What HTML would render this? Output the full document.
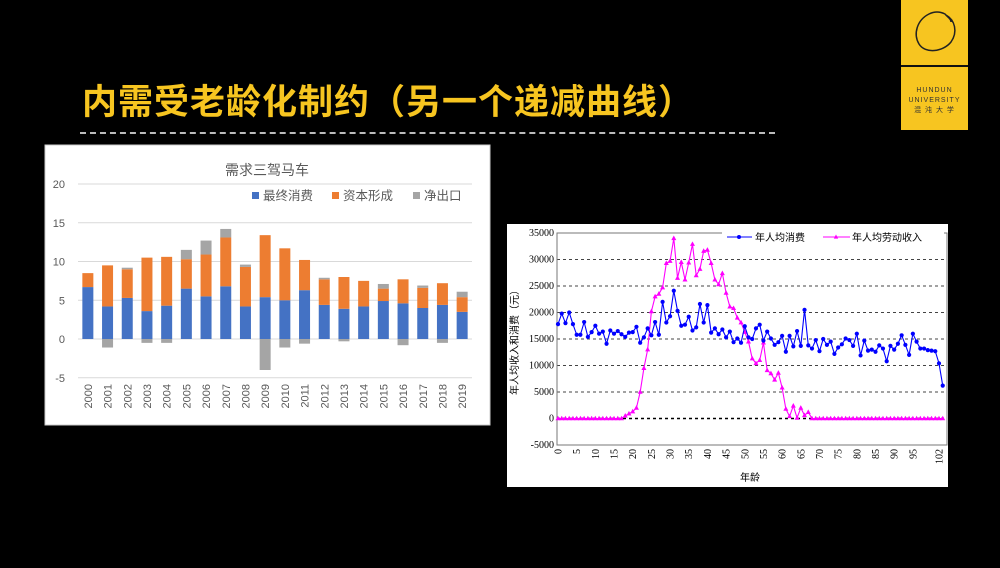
<!DOCTYPE html>
<html><head><meta charset="utf-8"><style>
body{margin:0;width:1000px;height:568px;background:#000;overflow:hidden;font-family:"Liberation Sans","Noto Sans CJK SC",sans-serif;position:relative}
.abs{position:absolute}
</style></head><body>
<div class="abs" style="left:82px;top:74px;font-size:35px;font-weight:bold;color:#f7c520;letter-spacing:1px;font-family:'Liberation Sans','Noto Sans CJK SC',sans-serif">内需受老龄化制约（另一个递减曲线）</div>
<div class="abs" style="left:80px;top:132px;width:695px;border-top:2px dashed #bbb"></div>
<div class="abs" style="left:901px;top:0;width:67px;height:130px;background:#f7c520">
<svg style="position:absolute;left:0;top:0" width="67" height="65"><path d="M45 15 C54 20 57 32 50 42 C42 52 24 54 18 44 C12 34 16 20 28 14 C34 11 40 12 44 14 C46 17 50 18 50 22" fill="none" stroke="#222" stroke-width="1.5"/></svg>
<div style="position:absolute;left:0;top:65px;width:67px;border-top:2px solid #111"></div>
<div style="position:absolute;left:0;top:86px;width:67px;text-align:center;font-size:7px;line-height:10px;color:#333;letter-spacing:1px">HUNDUN<br>UNIVERSITY<br>混 沌 大 学</div>
</div>
<svg class="abs" style="left:0;top:0" width="1000" height="568" id="svg"></svg>
<script>
const years=["2000","2001","2002","2003","2004","2005","2006","2007","2008","2009","2010","2011","2012","2013","2014","2015","2016","2017","2018","2019"];
const consumption=[6.7,4.2,5.3,3.6,4.3,6.5,5.5,6.8,4.2,5.4,5.0,6.3,4.4,3.9,4.2,4.9,4.6,4.0,4.4,3.5];
const capital=[1.8,5.3,3.7,6.9,6.3,3.8,5.4,6.3,5.1,8.0,6.7,3.9,3.3,4.1,3.3,1.6,3.1,2.6,2.8,1.9];
const netExports=[0,-1.1,0.2,-0.5,-0.5,1.2,1.8,1.1,0.3,-4.0,-1.1,-0.6,0.2,-0.3,0,0.6,-0.8,0.3,-0.5,0.7];
const leftTicks=[-5,0,5,10,15,20];
const ageConsumption=[17800,19800,18000,20000,17800,15800,15800,18200,15400,16300,17500,16000,16400,14100,16600,16000,16500,15900,15400,16200,16300,17300,14300,15300,17000,15700,18200,15800,22000,18100,19300,24100,20300,17500,17700,19200,16600,17200,21600,18100,21400,16200,17000,15900,16800,15300,16400,14400,15100,14300,17400,15300,15000,17000,17700,14700,16400,15100,13900,14400,15600,12600,15600,13600,16500,13700,20500,13800,13200,14800,12700,15000,13900,14500,12200,13400,14000,15100,14800,13700,16000,11900,14700,12800,13000,12600,13800,13200,10800,13700,13000,14100,15700,13900,12000,16000,14500,13200,13200,12900,12800,12700,10400,6200];
const laborIncome=[0,0,0,0,0,0,0,0,0,0,0,0,0,0,0,0,0,0,500,900,1300,2000,5000,9500,13000,20200,23000,23500,24700,29300,29700,34000,26500,29500,26200,29400,32900,27000,28200,31600,31800,29300,26200,25300,27400,23700,21100,20800,19000,18100,16300,14500,11300,10400,11000,14300,9100,8500,7300,8600,5800,1800,400,2400,100,2000,600,1200,0,0,0,0,0,0,0,0,0,0,0,0,0,0,0,0,0,0,0,0,0,0,0,0,0,0,0,0,0,0,0,0,0,0,0,0];
const rightYTicks=[-5000,0,5000,10000,15000,20000,25000,30000,35000];
const ageTicks=[0,5,10,15,20,25,30,35,40,45,50,55,60,65,70,75,80,85,90,95,102];

const NS="http://www.w3.org/2000/svg",svg=document.getElementById('svg');
function mk(t,a,p,txt){const e=document.createElementNS(NS,t);for(const k in a)e.setAttribute(k,a[k]);if(txt!=null)e.textContent=txt;(p||svg).appendChild(e);return e;}
const FF='"Liberation Sans","Noto Sans CJK SC",sans-serif';

// LEFT CHART
const L=mk('g',{});


mk('rect',{x:45,y:145,width:445,height:280,fill:'#fff',stroke:'#ccc'},L);
const ly=v=>339-v*(155/20);
const lx=i=>78+(i+0.5)*(394/20);
leftTicks.forEach(t=>{
 mk('line',{x1:78,x2:472,y1:ly(t),y2:ly(t),stroke:'#d9d9d9','stroke-width':1},L);
 const tl=mk('text',{x:65,y:ly(t)+4,'font-size':11,fill:'#595959','text-anchor':'end','font-family':FF},L,String(t));
 
 
});
const ct=mk('text',{x:267,y:175,'font-size':14,fill:'#595959','text-anchor':'middle','font-family':FF},L,'需求三驾马车');


const bw=11;
years.forEach((yr,i)=>{
 const x=lx(i)-bw/2;
 const c=consumption[i],k=capital[i],n=netExports[i];
 const b1=mk('rect',{x:x,y:ly(c),width:bw,height:ly(0)-ly(c),fill:'#4472c4'},L);
 
 
 const b2=mk('rect',{x:x,y:ly(c+k),width:bw,height:ly(c)-ly(c+k),fill:'#ed7d31'},L);
 
 
 let y0,y1;
 if(n>=0){y0=ly(c+k+n);y1=ly(c+k);}else{y0=ly(0);y1=ly(n);}
 const b3=mk('rect',{x:x,y:y0,width:bw,height:y1-y0,fill:'#a5a5a5'},L);
 
 
 const xl=mk('text',{x:0,y:0,'font-size':11,fill:'#595959','text-anchor':'end','font-family':FF,transform:`translate(${lx(i)+4},384) rotate(-90)`},L,yr);
 
 
});
[['#4472c4','最终消费',252],['#ed7d31','资本形成',332],['#a5a5a5','净出口',413]].forEach(([c,t,x])=>{
 const g=mk('g',{},L);
 
 
 mk('rect',{x:x,y:192,width:7,height:7,fill:c},g);
 mk('text',{x:x+11,y:200,'font-size':12.5,fill:'#595959','font-family':FF},g,t);
});

// RIGHT CHART
const R=mk('g',{});


mk('rect',{x:507,y:224,width:441,height:263,fill:'#fff'},R);
const ry=v=>445-(v+5000)*(212/40000);
const rx=a=>558+a*(381/102);
rightYTicks.forEach(t=>{
 if(t>-5000&&t<35000){
  mk('line',{x1:557,x2:947,y1:ry(t),y2:ry(t),stroke:t==0?'#000':'#444','stroke-width':t==0?1.5:1,'stroke-dasharray':'3,3'},R);
 }
 const tl=mk('text',{x:554,y:ry(t)+3,'font-size':10,fill:'#000','text-anchor':'end','font-family':'"Liberation Serif",serif'},R,String(t));
 
 
});
mk('rect',{x:557,y:233,width:390,height:212,fill:'none',stroke:'#777','stroke-width':1},R);
ageTicks.forEach(a=>{
 const tl=mk('text',{x:0,y:0,'font-size':10,fill:'#000','text-anchor':'end','font-family':'"Liberation Serif",serif',transform:`translate(${rx(a)+3.5},449) rotate(-90)`},R,String(a));
 
 
});
const xt=mk('text',{x:750,y:481,'font-size':10,fill:'#000','text-anchor':'middle','font-family':FF},R,'年龄');


const yt=mk('text',{x:0,y:0,'font-size':10,fill:'#000','text-anchor':'middle','font-family':FF,transform:'translate(518,340) rotate(-90)'},R,'年人均收入和消费（元）');


function series(vals,color,marker,name){
 const g=mk('g',{},R);
 
 
 mk('polyline',{points:vals.map((v,i)=>rx(i)+','+ry(v)).join(' '),fill:'none',stroke:color,'stroke-width':1.1},g);
 vals.forEach((v,i)=>{
  const x=rx(i),y=ry(v);
  let m;
  if(marker=='circle')m=mk('circle',{cx:x,cy:y,r:2.1,fill:color},g);
  else m=mk('polygon',{points:`${x},${y-2.8} ${x-2.5},${y+1.8} ${x+2.5},${y+1.8}`,fill:color},g);
  
  
 });
}
series(laborIncome,'#ff00ff','tri','series-labor-income');
series(ageConsumption,'#0000ff','circle','series-consumption');
const lg=mk('g',{},R);


mk('rect',{x:722,y:229,width:222,height:16,fill:'#fff'},lg);
mk('line',{x1:727,x2:752,y1:237,y2:237,stroke:'#0000ff'},lg);
mk('circle',{cx:739,cy:237,r:2,fill:'#0000ff'},lg);
mk('text',{x:755,y:241,'font-size':10,fill:'#000','font-family':FF},lg,'年人均消费');
mk('line',{x1:823,x2:850,y1:237,y2:237,stroke:'#ff00ff'},lg);
mk('polygon',{points:'836,234.5 833.8,238.6 838.2,238.6',fill:'#ff00ff'},lg);
mk('text',{x:852,y:241,'font-size':10,fill:'#000','font-family':FF},lg,'年人均劳动收入');
</script>
</body></html>
